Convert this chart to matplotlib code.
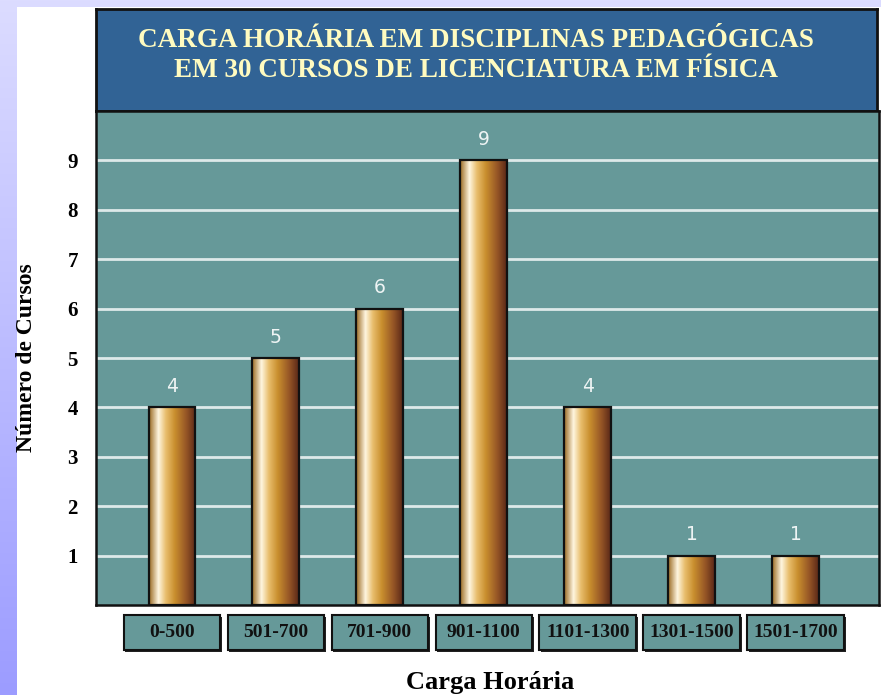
import numpy as np
import matplotlib
matplotlib.use("Agg")
import matplotlib.pyplot as plt
from matplotlib.colors import LinearSegmentedColormap
from matplotlib.patches import Rectangle

categories = ["0-500", "501-700", "701-900", "901-1100", "1101-1300", "1301-1500", "1501-1700"]
counts = [4, 5, 6, 9, 4, 1, 1]
yticks = [1, 2, 3, 4, 5, 6, 7, 8, 9]
title = "CARGA HORÁRIA EM DISCIPLINAS PEDAGÓGICAS\nEM 30 CURSOS DE LICENCIATURA EM FÍSICA"
xlabel = "Carga Horária"
ylabel = "Número de Cursos"

W, H = 881, 695
fig = plt.figure(figsize=(W / 100, H / 100), dpi=100)

# background gradient (lavender) + white panel
bg = fig.add_axes([0, 0, 1, 1], zorder=-10)
bg.set_axis_off()
grad = np.linspace(0, 1, 256).reshape(-1, 1)
lav = LinearSegmentedColormap.from_list("lav", ["#dcdcff", "#9c9cff"])
bg.imshow(grad, aspect="auto", cmap=lav, extent=[0, 1, 0, 1], origin="upper")
bg.add_patch(Rectangle((17 / W, 0), 1 - 17 / W, 1 - 7 / H, facecolor="white", edgecolor="none"))
bg.set_xlim(0, 1)
bg.set_ylim(0, 1)

def fx(px):
    return px / W

def fy(py):
    return 1 - py / H

# title box
tax = fig.add_axes([fx(96), fy(111), fx(877) - fx(96), fy(9) - fy(111)])
tax.set_facecolor("#316395")
tax.set_xticks([])
tax.set_yticks([])
for s in tax.spines.values():
    s.set_color("#111111")
    s.set_linewidth(2)
tax.text(0.486, 0.545, title, ha="center", va="center", color="#fffbc0",
         fontsize=19.5, fontweight="bold", family="Liberation Serif", linespacing=1.3,
         transform=tax.transAxes)

# plot area
ax = fig.add_axes([fx(96), fy(605), fx(879) - fx(96), fy(111) - fy(605)])
ax.set_facecolor("#669999")
for s in ax.spines.values():
    s.set_color("#111111")
    s.set_linewidth(1.8)

x = np.arange(len(categories))
bw = 0.45
cmap = LinearSegmentedColormap.from_list(
    "gold",
    [(0.0, "#9a6a22"), (0.2, "#fff6e0"), (0.36, "#e8bd6c"), (0.55, "#c98f2e"),
     (0.8, "#955526"), (1.0, "#5a2818")])
hgrad = np.linspace(0, 1, 200).reshape(1, -1)
for xi, v in zip(x, counts):
    ax.imshow(hgrad, aspect="auto", cmap=cmap, extent=[xi - bw / 2, xi + bw / 2, 0, v],
              zorder=3, interpolation="bilinear")
ax.bar(x, counts, width=bw, facecolor="none", edgecolor="#111111", linewidth=1.6, zorder=4)
for xi, v in zip(x, counts):
    ax.annotate(str(v), (xi, v), xytext=(0, 8), textcoords="offset points",
                ha="center", va="bottom", color="#eef4f4", fontsize=13.5, zorder=5)

ax.set_xlim(-0.73, 6.8)
ax.set_ylim(0, 10)
ax.set_yticks(yticks)
ax.set_yticklabels([str(t) for t in yticks], fontsize=15, fontweight="bold",
                   family="Liberation Serif")
ax.tick_params(axis="y", length=0, pad=13)
ax.set_xticks([])
ax.yaxis.grid(True, color="#dde9e9", linewidth=2)
ax.set_axisbelow(True)

# category boxes below axis
trans = ax.get_xaxis_transform()
ah = 605 - 111
y0 = -(650 - 605) / ah
y1 = -(615 - 605) / ah
boxw = 0.93
for xi, lab in zip(x, categories):
    ax.add_patch(Rectangle((xi - boxw / 2 + 0.015, y0 - 0.005), boxw, y1 - y0,
                           transform=trans, facecolor="#222222", edgecolor="none",
                           clip_on=False, zorder=1))
    ax.add_patch(Rectangle((xi - boxw / 2, y0), boxw, y1 - y0, transform=trans,
                           facecolor="#669999", edgecolor="#111111", linewidth=1.5,
                           clip_on=False, zorder=2))
    ax.text(xi, (y0 + y1) / 2, lab, transform=trans, ha="center", va="center",
            fontsize=14, fontweight="bold", family="Liberation Serif", color="#111111",
            zorder=3, clip_on=False)

fig.text(fx(490), fy(683), xlabel, ha="center", va="center", fontsize=19,
         fontweight="bold", family="Liberation Serif")
fig.text(fx(27), fy(358), ylabel, ha="center", va="center", rotation=90,
         fontsize=17, fontweight="bold", family="Liberation Serif")

fig.savefig("out.png", dpi=100)
